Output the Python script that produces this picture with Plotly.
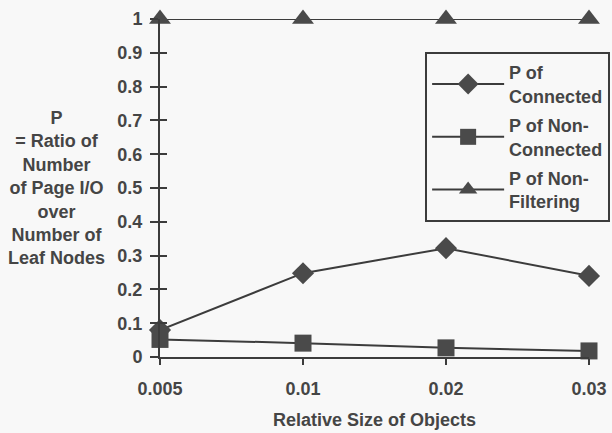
import plotly.graph_objects as go

categories = ["0.005", "0.01", "0.02", "0.03"]
p_connected = [0.08, 0.248, 0.322, 0.24]
p_non_connected = [0.052, 0.041, 0.027, 0.018]
p_non_filtering = [1.0, 1.0, 1.0, 1.0]
y_ticks = [0, 0.1, 0.2, 0.3, 0.4, 0.5, 0.6, 0.7, 0.8, 0.9, 1]
y_tick_labels = ["0", "0.1", "0.2", "0.3", "0.4", "0.5", "0.6", "0.7", "0.8", "0.9", "1"]

xpos = list(range(len(categories)))
ink = "#3c3c3c"
txt = "#454545"
font = "Liberation Sans, Arial, sans-serif"

fig = go.Figure()
series = [
    ("<b>P of<br>Connected</b>", p_connected, "diamond", 17),
    ("<b>P of Non-<br>Connected</b>", p_non_connected, "square", 17),
    ("<b>P of Non-<br>Filtering</b>", p_non_filtering, "triangle-up", 19),
]
for i, (name, vals, sym, size) in enumerate(series):
    fig.add_trace(go.Scatter(
        x=xpos, y=vals, name=name, mode="lines+markers",
        legendgroup="g%d" % i,
        line=dict(color=ink, width=2),
        marker=dict(symbol=sym, size=size, color="#4a4a4a"),
        cliponaxis=False,
    ))

fig.add_trace(go.Scatter(x=[0], y=[0], yaxis="y2", mode="markers",
                         marker=dict(opacity=0), showlegend=False, hoverinfo="skip"))

fig.update_layout(
    width=612, height=433,
    margin=dict(l=160, r=23, t=19, b=76, autoexpand=False),
    paper_bgcolor="#f8f8f8", plot_bgcolor="rgba(0,0,0,0)",
    font=dict(family=font, color=txt, size=18),
    showlegend=True,
    legend=dict(
        x=0.618, y=0.902, xanchor="left", yanchor="top",
        bordercolor=ink, borderwidth=2, bgcolor="#f8f8f8",
        font=dict(size=18, color=txt), tracegroupgap=3,
        itemwidth=72,
    ),
    xaxis=dict(
        range=[0, 3], tickvals=xpos, ticktext=["<b>%s</b>" % c for c in categories],
        showgrid=False, zeroline=False, showline=True, linecolor=ink, linewidth=2,
        ticks="outside", ticklen=6, tickcolor=ink, tickwidth=2,
        tickfont=dict(size=18, color=txt), ticklabelstandoff=8,
        title=dict(text="<b>Relative Size of Objects</b>", font=dict(size=18, color=txt), standoff=16),
    ),
    yaxis=dict(
        range=[0, 1], tickvals=y_ticks, ticktext=["<b>%s</b>" % t for t in y_tick_labels],
        showgrid=False, zeroline=False, showline=True, linecolor=ink, linewidth=2,
        ticks="outside", ticklen=8, tickcolor=ink, tickwidth=2,
        tickfont=dict(size=18, color=txt), ticklabelstandoff=4,
    ),
    yaxis2=dict(
        range=[0, 1], tickvals=y_ticks, overlaying="y", side="left",
        showticklabels=False, showgrid=False, zeroline=False, showline=False,
        ticks="inside", ticklen=7, tickcolor=ink, tickwidth=2,
    ),
)

fig.add_annotation(
    text="<b>P<br>= Ratio of<br>Number<br>of Page I/O<br>over<br>Number of<br>Leaf Nodes</b>",
    xref="paper", yref="paper", x=-0.2424, y=0.5, xanchor="center", yanchor="middle",
    showarrow=False, align="center", font=dict(size=18, color=txt, family=font),
)

fig.write_html(
    "out.html",
    config={"displayModeBar": False},
    post_script="document.body.style.margin='0';document.body.style.background='#f8f8f8';",
)
